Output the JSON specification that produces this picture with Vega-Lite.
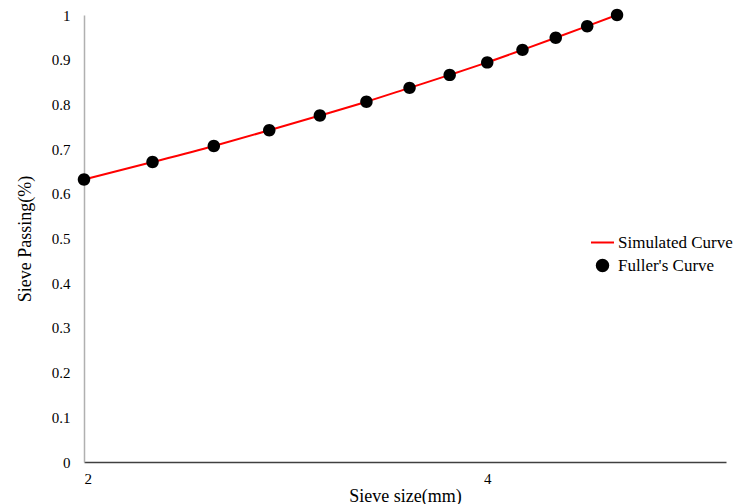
{
  "$schema": "https://vega.github.io/schema/vega-lite/v6.json",
  "width": 642,
  "height": 447,
  "autosize": {"type": "none"},
  "padding": {"left": 84, "top": 15, "right": 10, "bottom": 42},
  "background": "white",
  "config": {
    "view": {"stroke": null},
    "font": "Liberation Serif",
    "axis": {"labelFont": "Liberation Serif", "titleFont": "Liberation Serif", "grid": false, "ticks": false, "titleFontWeight": "normal", "labelColor": "#000", "titleColor": "#000"},
    "legend": {"labelFont": "Liberation Serif"}
  },
  "data": {
    "values": [
      {"series": "Simulated Curve", "d": 2.0, "p": 0.632},
      {"series": "Simulated Curve", "d": 2.25, "p": 0.671},
      {"series": "Simulated Curve", "d": 2.5, "p": 0.707},
      {"series": "Simulated Curve", "d": 2.75, "p": 0.742},
      {"series": "Simulated Curve", "d": 3.0, "p": 0.775},
      {"series": "Simulated Curve", "d": 3.25, "p": 0.806},
      {"series": "Simulated Curve", "d": 3.5, "p": 0.837},
      {"series": "Simulated Curve", "d": 3.75, "p": 0.866},
      {"series": "Simulated Curve", "d": 4.0, "p": 0.894},
      {"series": "Simulated Curve", "d": 4.25, "p": 0.922},
      {"series": "Simulated Curve", "d": 4.5, "p": 0.949},
      {"series": "Simulated Curve", "d": 4.75, "p": 0.975},
      {"series": "Simulated Curve", "d": 5.0, "p": 1.0},
      {"series": "Fuller's Curve", "d": 2.0, "p": 0.632},
      {"series": "Fuller's Curve", "d": 2.25, "p": 0.671},
      {"series": "Fuller's Curve", "d": 2.5, "p": 0.707},
      {"series": "Fuller's Curve", "d": 2.75, "p": 0.742},
      {"series": "Fuller's Curve", "d": 3.0, "p": 0.775},
      {"series": "Fuller's Curve", "d": 3.25, "p": 0.806},
      {"series": "Fuller's Curve", "d": 3.5, "p": 0.837},
      {"series": "Fuller's Curve", "d": 3.75, "p": 0.866},
      {"series": "Fuller's Curve", "d": 4.0, "p": 0.894},
      {"series": "Fuller's Curve", "d": 4.25, "p": 0.922},
      {"series": "Fuller's Curve", "d": 4.5, "p": 0.949},
      {"series": "Fuller's Curve", "d": 4.75, "p": 0.975},
      {"series": "Fuller's Curve", "d": 5.0, "p": 1.0}
    ]
  },
  "encoding": {
    "x": {
      "field": "d", "type": "quantitative",
      "scale": {"type": "log", "base": 2, "domain": [2, 6.03], "nice": false},
      "axis": {"title": "Sieve size(mm)", "values": [2, 4], "labelFont": "Liberation Serif", "titleFont": "Liberation Serif", "labelFontSize": 15, "labelPadding": 9, "titleFontSize": 18, "titlePadding": 1, "domainColor": "#404040", "domainWidth": 1.5}
    },
    "y": {
      "field": "p", "type": "quantitative",
      "scale": {"domain": [0, 1], "nice": false},
      "axis": {"title": "Sieve Passing(%)", "format": "~g", "values": [0, 0.1, 0.2, 0.3, 0.4, 0.5, 0.6, 0.7, 0.8, 0.9, 1], "labelFont": "Liberation Serif", "titleFont": "Liberation Serif", "labelFontSize": 15, "labelPadding": 14, "titleFontSize": 18, "titlePadding": 17, "domainColor": "#b0b0b0", "domainWidth": 1.5}
    },
    "color": {
      "field": "series", "type": "nominal",
      "scale": {"domain": ["Simulated Curve", "Fuller's Curve"], "range": ["#ff0000", "#000000"]},
      "legend": {
        "title": null, "orient": "none", "legendX": 506, "legendY": 215,
        "labelFont": "Liberation Serif", "labelFontSize": 17, "symbolSize": 529, "rowPadding": 2, "labelOffset": 3,
        "symbolStrokeWidth": 2,
        "encode": {"symbols": {"update": {"stroke": {"scale": "color", "field": "value"}, "strokeWidth": {"value": 2}}}}
      }
    }
  },
  "layer": [
    {
      "transform": [{"filter": "datum.series === 'Simulated Curve'"}],
      "mark": {"type": "line", "strokeWidth": 2, "interpolate": "monotone"}
    },
    {
      "transform": [{"filter": "datum.series === \"Fuller's Curve\""}],
      "mark": {"type": "point", "filled": true, "size": 620, "opacity": 1},
      "encoding": {
        "shape": {
          "field": "series", "type": "nominal",
          "scale": {"domain": ["Simulated Curve", "Fuller's Curve"], "range": ["M-1,0H1", "M-0.5,0A0.5,0.5 0 1,0 0.5,0A0.5,0.5 0 1,0 -0.5,0Z"]},
          "legend": {"title": null, "orient": "none", "legendX": 506, "legendY": 215, "labelFont": "Liberation Serif", "labelFontSize": 17, "symbolSize": 529, "rowPadding": 2, "labelOffset": 3}
        }
      }
    }
  ]
}
